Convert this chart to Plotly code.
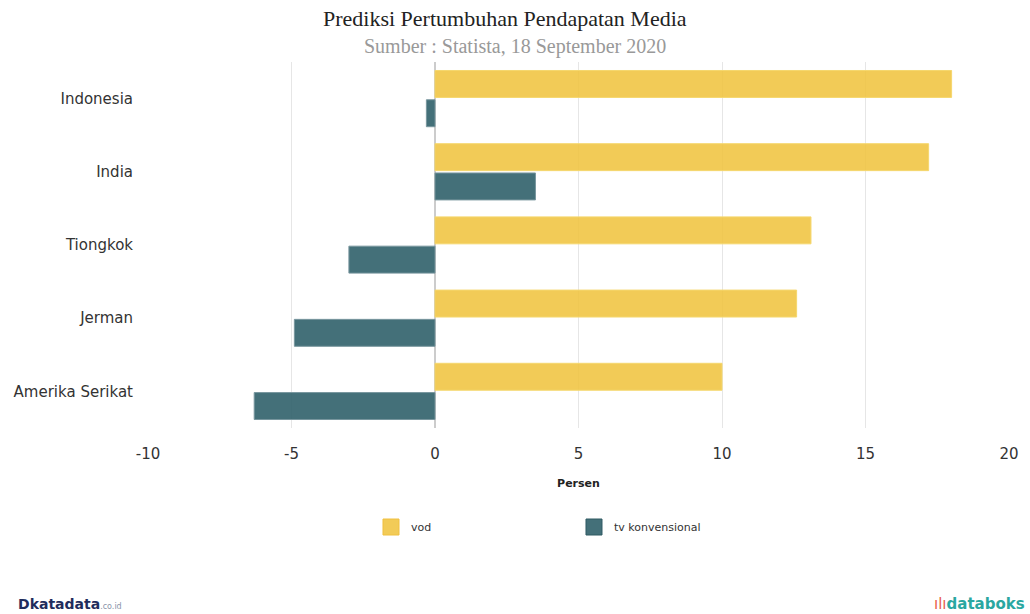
import plotly.graph_objects as go

categories = ["Indonesia", "India", "Tiongkok", "Jerman", "Amerika Serikat"]
vod = [18.0, 17.2, 13.1, 12.6, 10.0]
tv_konvensional = [-0.3, 3.5, -3.0, -4.9, -6.3]
series_names = ["vod", "tv konvensional"]
tick_vals = [-10, -5, 0, 5, 10, 15, 20]
tick_text = ["-10", "-5", "0", "5", "10", "15", "20"]

VOD_FILL = "rgba(240,196,64,0.88)"
VOD_LINE = "rgba(245,215,110,1)"
TV_FILL = "rgba(52,100,110,0.92)"
TV_LINE = "rgba(120,150,158,1)"

fig = go.Figure()
fig.add_trace(go.Bar(
    y=categories, x=vod, orientation="h", name=series_names[0], showlegend=False,
    marker=dict(color=VOD_FILL, line=dict(color=VOD_LINE, width=1)),
))
fig.add_trace(go.Bar(
    y=categories, x=tv_konvensional, orientation="h", name=series_names[1], showlegend=False,
    marker=dict(color=TV_FILL, line=dict(color=TV_LINE, width=1)),
))
# legend entries with large square swatches
fig.add_trace(go.Scatter(x=[None], y=[None], mode="markers", name=series_names[0],
                         marker=dict(symbol="square", size=18, color=VOD_FILL, line=dict(color="#f0c040", width=1))))
fig.add_trace(go.Scatter(x=[None], y=[None], mode="markers", name=series_names[1],
                         marker=dict(symbol="square", size=18, color=TV_FILL, line=dict(color="#2f5a63", width=1))))

fig.update_layout(
    width=1030, height=614,
    paper_bgcolor="white", plot_bgcolor="white",
    margin=dict(l=148, r=21, t=62, b=186),
    barmode="group", bargap=0.2, bargroupgap=0.08,
    showlegend=True,
    legend=dict(orientation="h", x=0.259, xanchor="left", y=-0.2705, yanchor="middle",
                font=dict(family="DejaVu Sans", size=11, color="#333"),
                entrywidth=158, entrywidthmode="pixels", traceorder="normal",
                itemwidth=30),
    xaxis=dict(range=[-10, 20], tickvals=tick_vals, ticktext=tick_text, showgrid=True, gridcolor="#e6e6e6",
               zeroline=True, zerolinecolor="#cccccc", zerolinewidth=1.5,
               tickfont=dict(family="DejaVu Sans", size=15, color="#333"),
               title=dict(text="<b>Persen</b>", font=dict(family="DejaVu Sans", size=11, color="#222"), standoff=17),
               ticks="", ticklabelstandoff=15),
    yaxis=dict(categoryorder="array", categoryarray=categories, autorange="reversed",
               tickfont=dict(family="DejaVu Sans", size=15, color="#333"),
               showgrid=False, ticks="", ticklabelstandoff=14),
)

fig.add_annotation(x=0.4146, y=1.120, xref="paper", yref="paper", xanchor="center", yanchor="middle",
                   showarrow=False, text="Prediksi Pertumbuhan Pendapatan Media",
                   font=dict(family="Liberation Serif", size=22, color="#222"))
fig.add_annotation(x=0.4263, y=1.043, xref="paper", yref="paper", xanchor="center", yanchor="middle",
                   showarrow=False, text="Sumber : Statista, 18 September 2020",
                   font=dict(family="Liberation Serif", size=20, color="#999"))

fig.add_annotation(x=-0.153, y=-0.481, xref="paper", yref="paper", xanchor="left", yanchor="middle",
                   showarrow=False,
                   text="<b>D</b><b>katadata</b><span style='font-size:8px;color:#8a93a8'>.co.id</span>",
                   font=dict(family="DejaVu Sans", size=14, color="#1f2c5c"))
fig.add_annotation(x=1.0209, y=-0.481, xref="paper", yref="paper", xanchor="right", yanchor="middle",
                   showarrow=False,
                   text="<span style='color:#e8604c'>ılı</span><b>databoks</b>",
                   font=dict(family="DejaVu Sans", size=15, color="#2aa7a1"))

fig.write_html("out.html", config={"displayModeBar": False},
               post_script="document.body.style.margin='0';document.body.style.overflow='hidden';")
